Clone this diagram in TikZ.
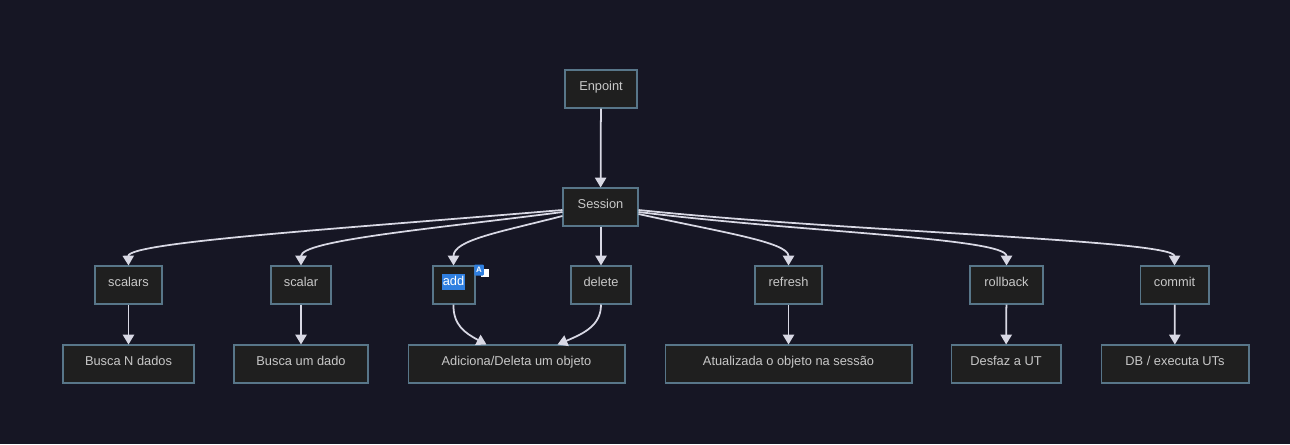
\documentclass[tikz,border=0pt]{standalone}
\usepackage{fontspec}
\setmainfont{Liberation Sans}
\usetikzlibrary{calc,arrows.meta}
\definecolor{bgdark}{HTML}{161624}
\definecolor{boxfill}{HTML}{1F1F1F}
\definecolor{boxline}{HTML}{587689}
\definecolor{textgray}{HTML}{C8C8C8}
\definecolor{linegray}{HTML}{D8D8E4}
\definecolor{markblue}{HTML}{2F7FE0}

\begin{document}
\begin{tikzpicture}[x=0.02cm,y=-0.02cm,
    every node/.style={font=\fontsize{7.3}{9}\selectfont,text=textgray},
    box/.style={draw=boxline,fill=boxfill,line width=0.6pt,minimum height=0.76cm,inner sep=0pt,text height=6pt,text depth=4.2pt},
    link/.style={draw=linegray,line width=1pt,-{Triangle[width=6.4pt,length=5.6pt]}}]

    \fill[bgdark] (0,0) rectangle (1290,444);
    \useasboundingbox (0,0) rectangle (1290,444);

    \node (endpoint) [box,minimum width=1.44cm] at (601,89) {Enpoint};
    \node (session) [box,minimum width=1.5cm] at (600.5,207) {Session};

    \node (scalars) [box,minimum width=1.34cm] at (128.5,285) {scalars};
    \node (scalar) [box,minimum width=1.2cm] at (301,285) {scalar};
    \node (add) [box,minimum width=0.84cm] at (454,285) {};
    \node (delete) [box,minimum width=1.2cm] at (601,285) {delete};
    \node (refresh) [box,minimum width=1.34cm] at (788.5,285) {refresh};
    \node (rollback) [box,minimum width=1.46cm] at (1006.5,285) {rollback};
    \node (commit) [box,minimum width=1.38cm] at (1174.5,285) {commit};

    \node (buscan) [box,minimum width=2.62cm] at (128.5,364) {Busca N dados};
    \node (buscaum) [box,minimum width=2.68cm] at (301,364) {Busca um dado};
    \node (adiciona) [box,minimum width=4.34cm] at (516.5,364) {Adiciona/Deleta um objeto};
    \node (atualizada) [box,minimum width=4.94cm] at (788.5,364) {Atualizada o objeto na sessão};
    \node (desfaz) [box,minimum width=2.2cm] at (1006,364) {Desfaz a UT};
    \node (executa) [box,minimum width=2.96cm] at (1175,364) {DB / executa UTs};

    % text selection over add
    \node (addtext) [fill=markblue,text=white,inner sep=0.5pt,text height=6pt,text depth=1.6pt] at (453.5,282) {add};
    \node (markback) [fill=white,minimum size=0.16cm,inner sep=0pt] at (484.5,272.5) {};
    \node (markicon) [fill=markblue,rounded corners=0.5pt,minimum width=0.19cm,minimum height=0.22cm,inner sep=0pt,text=white,font=\fontsize{4.5}{5}\selectfont\bfseries] at (479,270) {A};

    \draw[link] (endpoint) -- (session);
    \draw[link] ($(session.west)+(0,3)$) .. controls (350,228) and (128,242) .. (scalars.north);
    \draw[link] ($(session.west)+(0,5)$) .. controls (440,228) and (301,240) .. (scalar.north);
    \draw[link] ($(session.west)+(0,9)$) .. controls (500,232) and (453.5,240) .. ($(add.north)+(-0.5,0)$);
    \draw[link] (session.south -| delete.north) -- (delete.north);
    \draw[link] ($(session.east)+(0,7)$) .. controls (720,232) and (788.5,242) .. (refresh.north);
    \draw[link] ($(session.east)+(0,5)$) .. controls (800,232) and (1006.5,238) .. (rollback.north);
    \draw[link] ($(session.east)+(0,3)$) .. controls (850,232) and (1174.5,240) .. (commit.north);

    \draw[link] (scalars) -- (buscan);
    \draw[link] (scalar) -- (buscaum);
    \draw[link] ($(add.south)+(-0.5,0)$) .. controls (453,325) and (465,333) .. ($(adiciona.north)+(-30,0)$);
    \draw[link] (delete.south) .. controls (601,325) and (585,333) .. ($(adiciona.north)+(41,0)$);
    \draw[link] (refresh) -- (atualizada);
    \draw[link] (rollback) -- (desfaz);
    \draw[link] (commit) -- (executa);
\end{tikzpicture}
\end{document}
